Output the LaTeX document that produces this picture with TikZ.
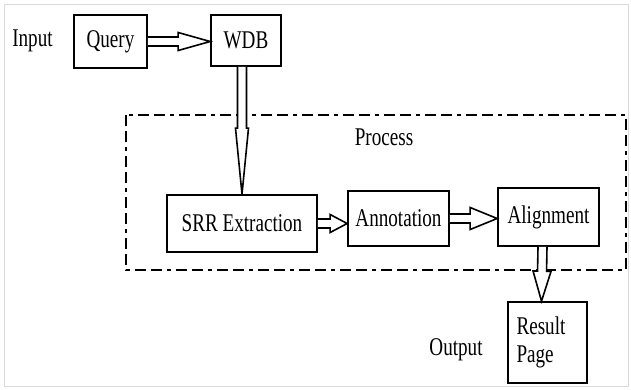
\documentclass[tikz,border=0pt]{standalone}
\usepackage{fontspec}
\setmainfont[FakeStretch=0.75]{Liberation Serif}
\usetikzlibrary{calc}
\tikzset{
  box/.style={draw, line width=1.7pt, rectangle, inner sep=0pt, font=\fontsize{25.5}{28}\selectfont},
  lbl/.style={inner sep=0pt, font=\fontsize{25.5}{28}\selectfont},
  arr/.style={draw, line width=1.6pt, fill=white, line join=miter},
  procbox/.style={draw, line width=1.9pt, dash pattern=on 11pt off 5pt on 11pt off 5pt on 4pt off 5pt},
}
\newcommand{\harrow}[5]{%
  \path[arr] let \p1=(#1), \p2=(#2), \n1={atan2(\y2-\y1,\x2-\x1)}, \n2={veclen(\x2-\x1,\y2-\y1)} in
    [shift={(\p1)}, rotate=\n1]
    (0,#3) -- ({\n2-#5},#3) -- ({\n2-#5},#4) -- (\n2,0) -- ({\n2-#5},-#4) -- ({\n2-#5},-#3) -- (0,-#3);}
\begin{document}
\begin{tikzpicture}[x=1pt,y=-1pt]
\useasboundingbox (0,0) rectangle (631,389);
\draw[black!15, line width=0.8pt] (4,4.5) rectangle (628,386);
% process region
\draw[procbox] (126,115) rectangle (626,270);
\node[lbl] (proc) at (384,137) {Process};
% nodes
\node[lbl] (input) at (32.5,41) {Input};
\node[box, minimum width=73pt, minimum height=53pt] (query) at (110.5,41.5) {Query};
\node[box, minimum width=70pt, minimum height=51pt] (wdb) at (246,40.5) {WDB};
\node[box, minimum width=150pt, minimum height=57pt] (srr) at (242,223.5) {SRR Extraction};
\node[box, minimum width=101pt, minimum height=55pt] (annot) at (398.5,218.5) {Annotation};
\node[box, minimum width=101pt, minimum height=58pt] (align) at (548.5,217) {Alignment};
\node[box, minimum width=79pt, minimum height=81pt, align=left, text width=62pt, inner sep=0pt] (result) at (547.5,342.5) {\hspace*{0pt}Result\\Page};
\node[lbl] (output) at (456,350) {Output};
% connectors
\harrow{query.east}{wdb.west |- query.east}{4.5}{9}{32}
\harrow{srr.north |- wdb.south}{srr.north}{4.5}{6.5}{66}
\harrow{srr.east}{annot.west |- srr.east}{4.5}{9}{17}
\harrow{annot.east}{align.west |- annot.east}{4.5}{11}{27}
\harrow{[xshift=-6pt]align.south}{[xshift=-6pt]result.north}{4.5}{9}{30}
\end{tikzpicture}
\end{document}
